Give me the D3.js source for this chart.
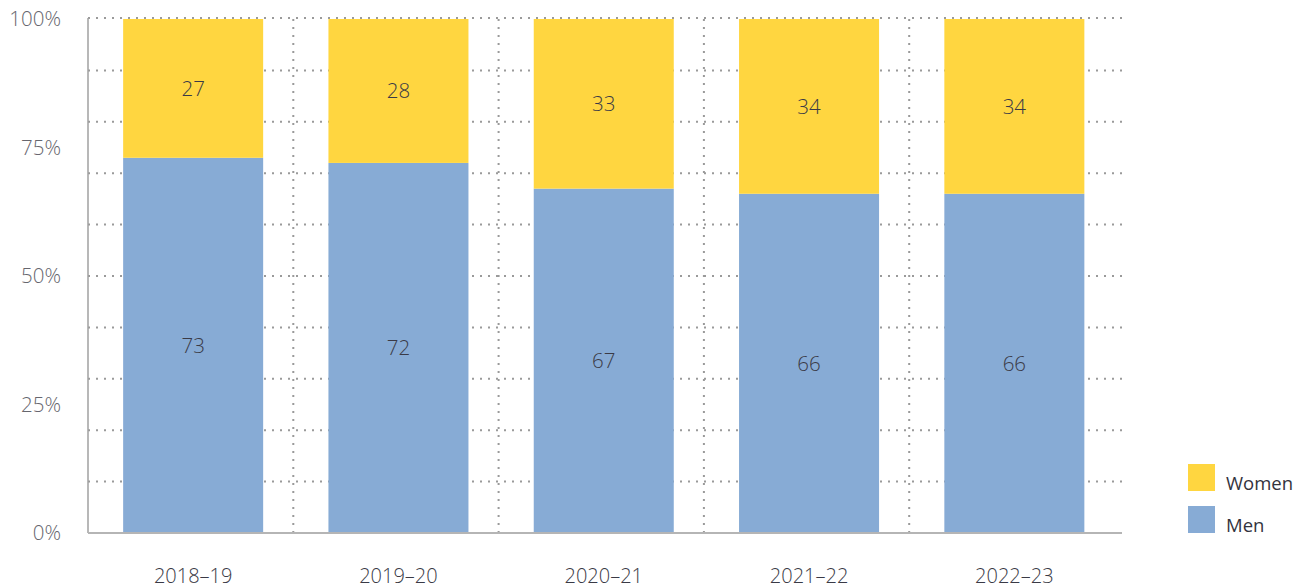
<!DOCTYPE html>
<html>
<head>
<meta charset="utf-8">
<script src="https://cdn.jsdelivr.net/npm/d3@7"></script>
<style>
  body { margin: 0; background: #fff; }
  text { font-family: "Open Sans", "Noto Sans", sans-serif; }
</style>
</head>
<body>
<div id="chart"></div>
<script>
// Data
const years = ["2018–19", "2019–20", "2020–21", "2021–22", "2022–23"];
const men = [73, 72, 67, 66, 66];
const women = [27, 28, 33, 34, 34];
const yTicks = [0, 25, 50, 75, 100];
const gridValues = [10, 20, 30, 40, 50, 60, 70, 80, 90, 100];

const width = 1306;
const height = 588;

const colors = { Men: "#87abd5", Women: "#ffd640" };

const svg = d3.select("#chart")
  .append("svg")
  .attr("width", width)
  .attr("height", height);

const x = d3.scaleBand()
  .domain(years)
  .range([90.5, 1117])
  .paddingInner(0.318)
  .paddingOuter(0.159);

const y = d3.scaleLinear()
  .domain([0, 100])
  .range([533, 19]);

const plotLeft = 88;
const plotRight = 1122;

// horizontal dotted gridlines
svg.append("g")
  .selectAll("line")
  .data(gridValues)
  .enter().append("line")
  .attr("x1", plotLeft)
  .attr("x2", plotRight)
  .attr("y1", d => y(d) - (d === 100 ? 1 : 0))
  .attr("y2", d => y(d) - (d === 100 ? 1 : 0))
  .attr("stroke", "#9a9a9a")
  .attr("stroke-width", 2)
  .attr("stroke-dasharray", "2,6");

// vertical dotted dividers between categories
const step = x.step();
svg.append("g")
  .selectAll("line")
  .data(years.slice(1))
  .enter().append("line")
  .attr("x1", d => x(d) - x.paddingInner() * step / 2 - 2.5)
  .attr("x2", d => x(d) - x.paddingInner() * step / 2 - 2.5)
  .attr("y1", y(100))
  .attr("y2", y(0))
  .attr("stroke", "#9a9a9a")
  .attr("stroke-width", 2)
  .attr("stroke-dasharray", "2,6");

// stacked bars
const rows = years.map((yr, i) => ({ year: yr, Men: men[i], Women: women[i] }));
const stack = d3.stack().keys(["Men", "Women"]);
const series = stack(rows);

const groups = svg.append("g")
  .selectAll("g")
  .data(series)
  .enter().append("g")
  .attr("fill", d => colors[d.key]);

groups.selectAll("rect")
  .data(d => d)
  .enter().append("rect")
  .attr("x", d => x(d.data.year))
  .attr("width", x.bandwidth())
  .attr("y", d => y(d[1]))
  .attr("height", d => y(d[0]) - y(d[1]));

groups.selectAll("text")
  .data(d => d.map(v => Object.assign({ val: v[1] - v[0] }, v)))
  .enter().append("text")
  .attr("x", d => x(d.data.year) + x.bandwidth() / 2)
  .attr("y", d => (y(d[0]) + y(d[1])) / 2)
  .attr("dy", "0.35em")
  .attr("text-anchor", "middle")
  .attr("fill", "#3a3a46")
  .attr("font-size", 20.5)
  .attr("font-weight", 300)
  .text(d => d.val);

// axes lines
svg.append("line")
  .attr("x1", plotLeft).attr("x2", plotLeft)
  .attr("y1", y(100) - 1).attr("y2", y(0))
  .attr("stroke", "#a0a0a0").attr("stroke-width", 1.5);

svg.append("line")
  .attr("x1", plotLeft).attr("x2", plotRight)
  .attr("y1", y(0)).attr("y2", y(0))
  .attr("stroke", "#b5b5b5").attr("stroke-width", 2);

// y tick labels
svg.append("g")
  .selectAll("text")
  .data(yTicks)
  .enter().append("text")
  .attr("x", 61)
  .attr("y", d => y(d))
  .attr("dy", "0.35em")
  .attr("text-anchor", "end")
  .attr("fill", "#66666e")
  .attr("font-size", 20.5)
  .attr("font-weight", 300)
  .text(d => d + "%");

// x labels
svg.append("g")
  .selectAll("text")
  .data(years)
  .enter().append("text")
  .attr("x", d => x(d) + x.bandwidth() / 2)
  .attr("y", 576)
  .attr("dy", "0.35em")
  .attr("text-anchor", "middle")
  .attr("fill", "#3a3a46")
  .attr("font-size", 20)
  .attr("font-weight", 300)
  .text(d => d);

// legend
const legendKeys = ["Women", "Men"];
const legend = svg.append("g")
  .selectAll("g")
  .data(legendKeys)
  .enter().append("g")
  .attr("transform", (d, i) => `translate(1188, ${464 + i * 42})`);

legend.append("rect")
  .attr("width", 27)
  .attr("height", 27)
  .attr("fill", d => colors[d]);

legend.append("text")
  .attr("x", 38)
  .attr("y", 24)
  .attr("dy", "0.1em")
  .attr("fill", "#33333d")
  .attr("font-size", 18.5)
  .text(d => d);
</script>
</body>
</html>
